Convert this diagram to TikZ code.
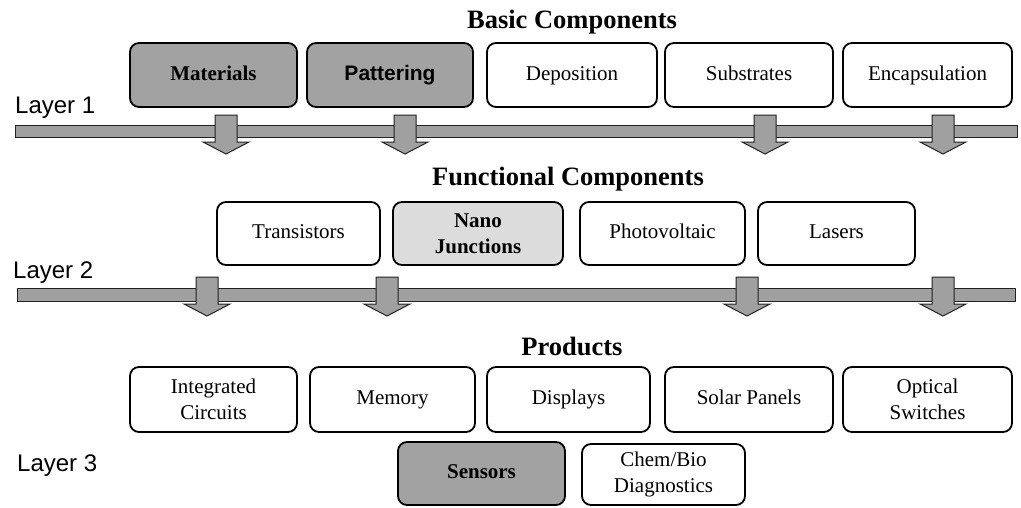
\documentclass[tikz,border=0pt]{standalone}
\usepackage{fontspec}
\setmainfont{Liberation Serif}
\setsansfont{Liberation Sans}
\definecolor{darkfill}{HTML}{A2A2A2}
\definecolor{lightfill}{HTML}{DCDCDC}
\definecolor{barfill}{HTML}{A0A0A0}
\definecolor{edge}{HTML}{222222}
\tikzset{
  boxbase/.style={draw=black, line width=1.8pt, rounded corners=9pt, fill=white,
    align=center, inner sep=2pt, font=\fontsize{21}{26}\selectfont},
  box/.style={boxbase, text height=14pt, text depth=4pt},
  twoline/.style={boxbase},
  darkbox/.style={box, fill=darkfill, font=\fontsize{21}{26}\selectfont\bfseries},
  lightbox/.style={boxbase, fill=lightfill, font=\fontsize{21}{26}\selectfont\bfseries},
  title/.style={font=\fontsize{26.5}{31}\selectfont\bfseries, inner sep=0pt},
  layer/.style={font=\sffamily\fontsize{24}{28}\selectfont, anchor=base west, inner sep=0pt},
  bar/.style={draw=edge, line width=1pt, fill=barfill, inner sep=0pt},
  blockarrow/.pic={
    \path[draw=edge, line width=1pt, fill=barfill, line join=miter]
      (-11,0) -- (11,0) -- (11,27) -- (23,27) -- (0,39) -- (-23,27) -- (-11,27) -- cycle;
  }
}
\begin{document}
\begin{tikzpicture}[x=1pt, y=-1pt]
\useasboundingbox (0,0) rectangle (1021,507);

% titles
\node[title] (t1) at (572,22) {Basic Components};
\node[title] (t2) at (568,179) {Functional Components};
\node[title] (t3) at (572,346) {Products};

% layer labels
\node[layer] (l1) at (15,113) {Layer 1};
\node[layer] (l2) at (13,278) {Layer 2};
\node[layer] (l3) at (17,471) {Layer 3};

% row 1
\node[darkbox, minimum width=167pt, minimum height=64pt] (mat) at (213.5,75) {Materials};
\node[darkbox, minimum width=166pt, minimum height=64pt, font=\sffamily\fontsize{21}{26}\selectfont\bfseries] (pat) at (390,75) {Pattering};
\node[box, minimum width=170pt, minimum height=64pt] (dep) at (572,75) {Deposition};
\node[box, minimum width=168pt, minimum height=64pt] (sub) at (749,75) {Substrates};
\node[box, minimum width=169pt, minimum height=64pt] (enc) at (927.5,75) {Encapsulation};

% bar 1 and arrows
\node[bar, minimum width=1002pt, minimum height=12pt] (bar1) at (516,131) {};
\pic at (226,115) {blockarrow};
\pic at (405,115) {blockarrow};
\pic at (765,115) {blockarrow};
\pic at (943,115) {blockarrow};

% row 2
\node[box, minimum width=163pt, minimum height=63pt] (tra) at (298.5,233.5) {Transistors};
\node[lightbox, minimum width=170pt, minimum height=63pt] (nano) at (478,233.5) {Nano\\Junctions};
\node[box, minimum width=165pt, minimum height=63pt] (pho) at (662.5,233.5) {Photovoltaic};
\node[box, minimum width=157pt, minimum height=63pt] (las) at (836.5,233.5) {Lasers};

% bar 2 and arrows
\node[bar, minimum width=998pt, minimum height=13pt] (bar2) at (516,294.5) {};
\pic at (207,277) {blockarrow};
\pic at (387,277) {blockarrow};
\pic at (747,277) {blockarrow};
\pic at (943,277) {blockarrow};

% row 3
\node[twoline, minimum width=167pt, minimum height=65pt] (ic) at (213.5,399.5) {Integrated\\Circuits};
\node[box, minimum width=165pt, minimum height=65pt] (mem) at (392.5,399.5) {Memory};
\node[box, minimum width=163pt, minimum height=65pt] (dis) at (568.5,399.5) {Displays};
\node[box, minimum width=168pt, minimum height=65pt] (sol) at (749,399.5) {Solar Panels};
\node[twoline, minimum width=169pt, minimum height=65pt] (opt) at (927.5,399.5) {Optical\\Switches};

% row 4
\node[darkbox, minimum width=167pt, minimum height=63pt] (sen) at (481.5,473.5) {Sensors};
\node[twoline, minimum width=163pt, minimum height=61pt] (chem) at (663.5,474.5) {Chem/Bio\\Diagnostics};
\end{tikzpicture}
\end{document}
